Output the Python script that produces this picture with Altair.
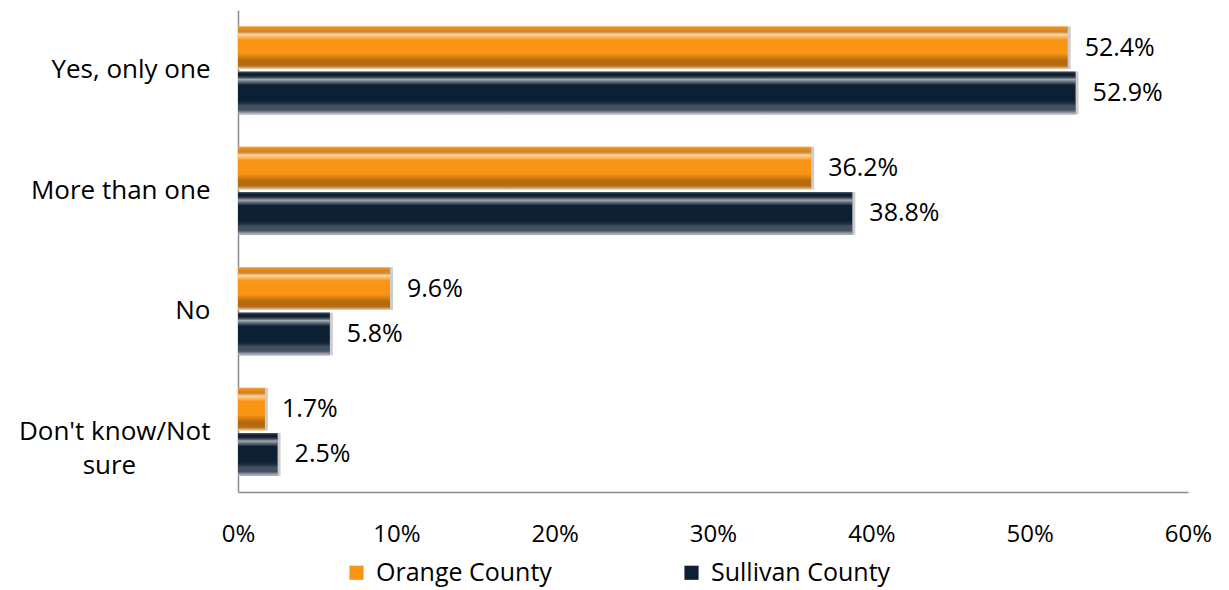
import altair as alt
import pandas as pd

categories = ["Yes, only one", "More than one", "No", "Don't know/Not sure"]
series = ["Orange County", "Sullivan County"]
orange_values = [52.4, 36.2, 9.6, 1.7]
sullivan_values = [52.9, 38.8, 5.8, 2.5]
series_colors = ["#FA9414", "#0D1F33"]
x_ticks = [0, 10, 20, 30, 40, 50, 60]

rows = []
for c, o, s in zip(categories, orange_values, sullivan_values):
    rows.append({"cat": c, "series": series[0], "value": o})
    rows.append({"cat": c, "series": series[1], "value": s})
df = pd.DataFrame(rows)
df["label"] = df["value"].map(lambda v: f"{v:.1f}%")

FONT = "Open Sans"
nb = "\u00a0"
zw = "\u200b"
label_expr = ('datum.value == "Don\'t know/Not sure" ? ["Don\'t know/Not", "sure'
              + nb * 11 + zw + '"] : datum.value')

x_enc = alt.X("value:Q", scale=alt.Scale(domain=[0, 60], nice=False),
              axis=alt.Axis(values=x_ticks, labelExpr="datum.value + '%'", title=None,
                            ticks=False, grid=False, domainColor="#8c8c8c", domainWidth=1.5,
                            labelFontSize=24, labelPadding=30, labelFont=FONT, labelColor="#000",
                            labelFlush=False))
y_enc = alt.Y("cat:N", sort=categories,
              scale=alt.Scale(paddingInner=0.27, paddingOuter=0.135),
              axis=alt.Axis(title=None, ticks=False, domainColor="#8c8c8c", domainWidth=1.5,
                            labelFontSize=26, labelPadding=28, labelFont=FONT, labelColor="#000",
                            labelExpr=label_expr, labelLineHeight=34, labelLimit=300))
yoff_enc = alt.YOffset("series:N", sort=series, scale=alt.Scale(paddingInner=0.05))

base = alt.Chart(df)

shadow = base.mark_bar(color="#000", opacity=0.2, xOffset=3, yOffset=5).encode(
    x=x_enc, y=y_enc, yOffset=yoff_enc)

bars = base.mark_bar().encode(
    x=x_enc, y=y_enc, yOffset=yoff_enc,
    color=alt.Color("series:N", sort=series,
                    scale=alt.Scale(domain=series, range=series_colors),
                    legend=alt.Legend(title=None, orient="none", direction="horizontal",
                                      legendX=106, legendY=550, symbolType="square",
                                      symbolSize=200, symbolStrokeWidth=0,
                                      labelFontSize=25, labelFont=FONT, labelColor="#000",
                                      labelLimit=400, columnPadding=127, labelOffset=7)))


def bevel_gradient(lower):
    return alt.Gradient(
        gradient="linear", x1=0, y1=0, x2=0, y2=1,
        stops=[
            alt.GradientStop(offset=0, color="rgba(255,255,255,0.35)"),
            alt.GradientStop(offset=0.07, color="rgba(0,0,0,0.05)"),
            alt.GradientStop(offset=0.19, color="rgba(255,255,255,0.62)"),
            alt.GradientStop(offset=0.32, color="rgba(255,255,255,0.0)"),
            alt.GradientStop(offset=0.64, color="rgba(0,0,0,0.0)"),
            alt.GradientStop(offset=0.8, color=lower),
            alt.GradientStop(offset=0.9, color=lower),
            alt.GradientStop(offset=1, color="rgba(255,255,255,0.75)"),
        ])


bevel_o = base.mark_bar(color=bevel_gradient("rgba(60,30,0,0.35)")).encode(
    x=x_enc, y=y_enc, yOffset=yoff_enc).transform_filter(alt.datum.series == series[0])
bevel_s = base.mark_bar(color=bevel_gradient("rgba(255,255,255,0.22)")).encode(
    x=x_enc, y=y_enc, yOffset=yoff_enc).transform_filter(alt.datum.series == series[1])

labels = base.mark_text(align="left", baseline="middle", dx=17, fontSize=25,
                        font=FONT, color="#000").encode(
    x=x_enc, y=y_enc, yOffset=yoff_enc, text="label:N")

chart = alt.layer(shadow, bars, bevel_o, bevel_s, labels).properties(
    width=950, height=482,
    autosize=alt.AutoSizeParams(type="none"),
    padding={"left": 238, "top": 10, "right": 41, "bottom": 98},
    background="white",
).configure_view(stroke=None)

chart.save("out.html", embed_options={"renderer": "svg", "actions": False})
